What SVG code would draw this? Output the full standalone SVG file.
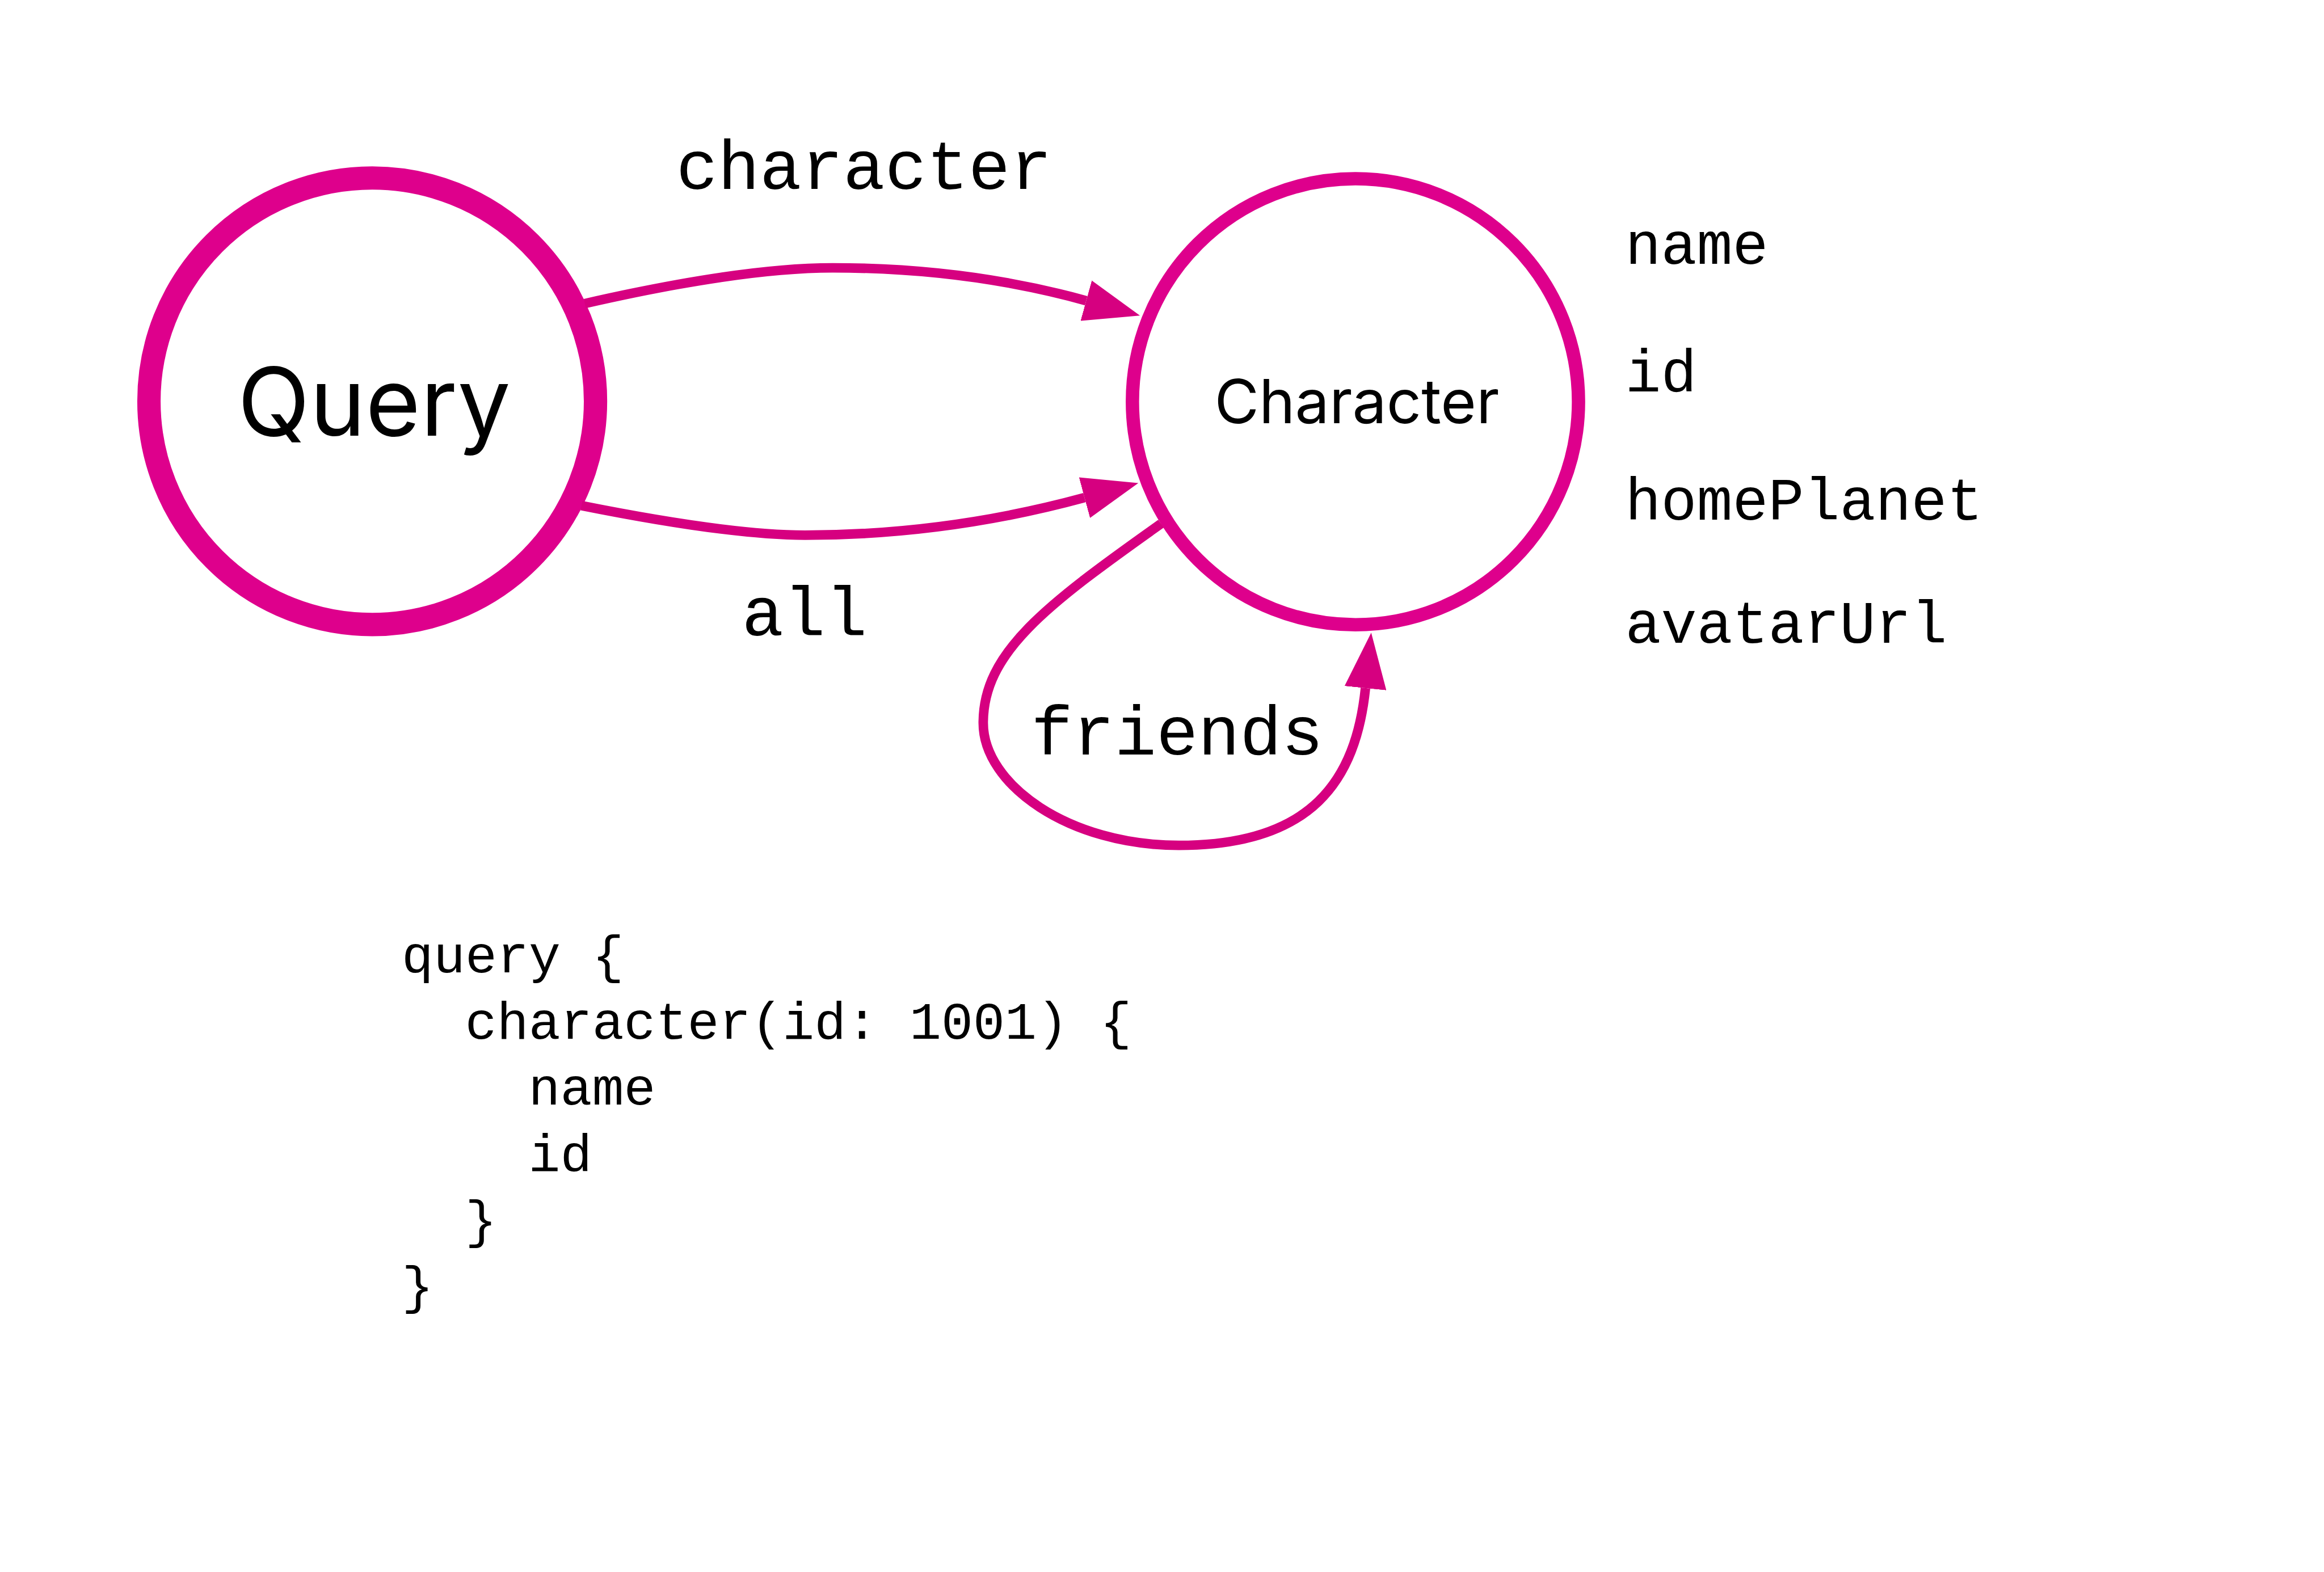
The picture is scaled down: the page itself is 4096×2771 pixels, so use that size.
<svg xmlns="http://www.w3.org/2000/svg" width="4096" height="2771" viewBox="0 0 4096 2771">
  <defs>
    <style>
      .node { fill: #FFFFFF; stroke: #DE008C; }
      .edge { fill: none; stroke: #D60080; stroke-width: 20; }
      .title { font-family: Inter, "Noto Sans", "Liberation Sans", sans-serif; fill: #000000; text-anchor: middle; }
      .mono { font-family: "Liberation Mono", "DejaVu Sans Mono", monospace; fill: #000000; }
      .elabel { font-size: 146px; text-anchor: middle; }
      .field { font-size: 125px; }
      .code { font-size: 111px; }
    </style>
    <marker id="arrow" markerUnits="userSpaceOnUse" viewBox="0 -44 117 88" markerWidth="117" markerHeight="88" refX="0" refY="0" orient="auto">
      <path d="M0,-44 L117,0 L0,44 Z" fill="#D60080"/>
    </marker>
  </defs>
  <rect x="0" y="0" width="4096" height="2771" fill="#FFFFFF"/>
  <g transform="scale(0.84)">
    <g id="node-query">
      <circle class="node" cx="781" cy="842" r="468.5" stroke-width="49"/>
      <text class="title" x="785" y="914" font-size="198">Query</text>
    </g>
    <g id="node-character">
      <circle class="node" cx="2844" cy="843" r="468" stroke-width="28"/>
      <text class="title" x="2847" y="888" font-size="128">Character</text>
    </g>
    <g id="character-fields" class="mono field">
      <text x="3410" y="554">name</text>
      <text x="3410" y="822">id</text>
      <text x="3410" y="1090">homePlanet</text>
      <text x="3410" y="1349">avatarUrl</text>
    </g>
    <g id="connectors">
      <path id="edge-character" class="edge" d="M1227,637 C1445.7,587 1619.7,562 1747,562 C1936,562 2113,585 2279,631" marker-end="url(#arrow)"/>
      <path id="edge-all" class="edge" d="M1220,1061 C1426.7,1102.3 1583.7,1123 1689,1123 C1886.8,1123 2082.3,1096.8 2275.5,1044.3" marker-end="url(#arrow)"/>
      <path id="edge-friends" class="edge" d="M2436,1099 C2192,1272 2063,1370 2063,1517 C2063,1647 2243.5,1774 2473.5,1774 C2753.5,1774 2845,1637 2865,1444" marker-end="url(#arrow)"/>
    </g>
    <g id="edge-labels" class="mono elabel">
      <text x="1813" y="396">character</text>
      <text x="1688" y="1333">all</text>
      <text x="2470" y="1583">friends</text>
    </g>
    <g id="query-code" class="mono code">
      <text x="843" y="2041">query {</text>
      <text x="976" y="2180">character(id: 1001) {</text>
      <text x="1109" y="2318">name</text>
      <text x="1109" y="2457">id</text>
      <text x="976" y="2596">}</text>
      <text x="843" y="2735">}</text>
    </g>
  </g>
</svg>
